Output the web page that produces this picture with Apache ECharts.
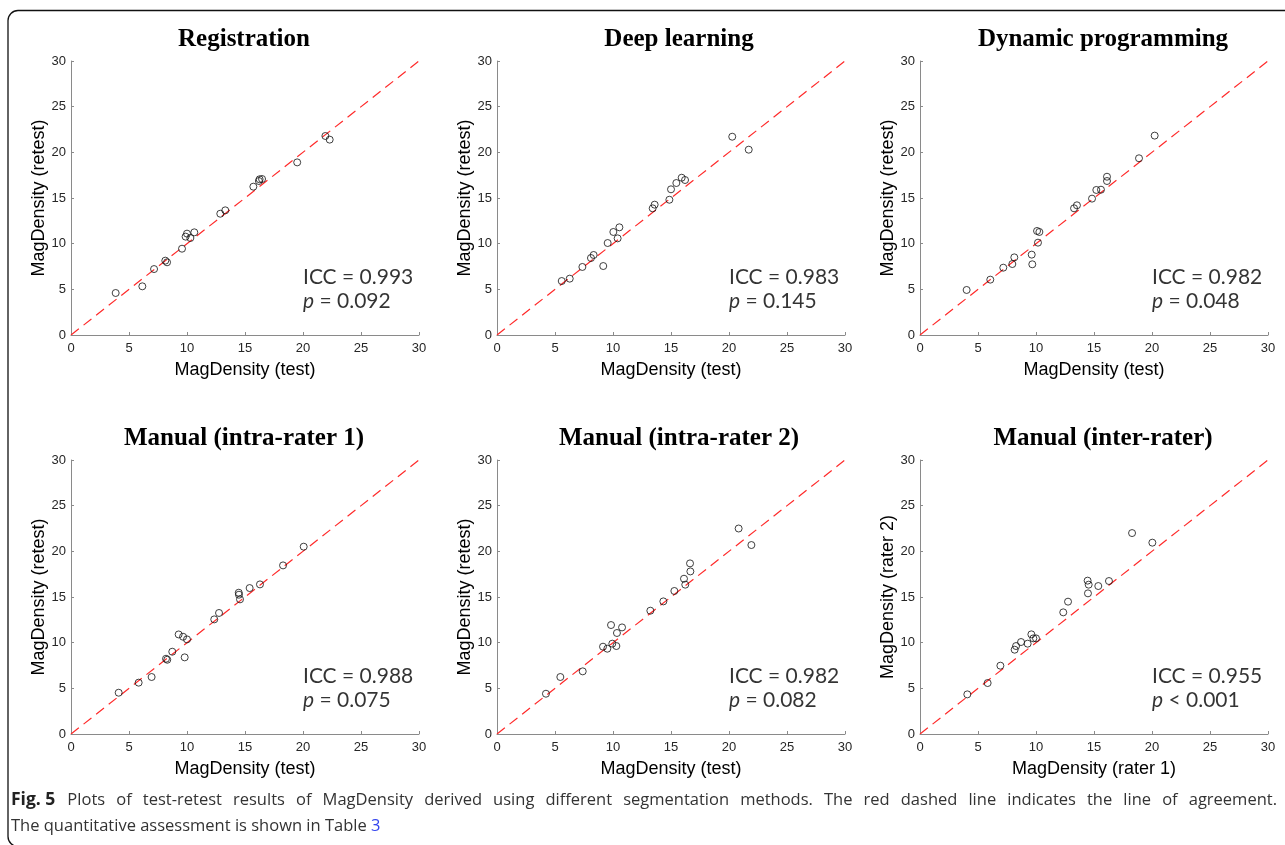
<!DOCTYPE html>
<html>
<head>
<meta charset="utf-8">
<title>Fig. 5 MagDensity test-retest</title>
<script src="https://cdn.jsdelivr.net/npm/echarts@6/dist/echarts.min.js"></script>
<style>
  html, body { margin: 0; padding: 0; background: #fff; }
  #main { width: 1285px; height: 845px; }
</style>
</head>
<body>
<div id="main"></div>
<script>
// panel titles and axis names
const titles = ['Registration', 'Deep learning', 'Dynamic programming',
  'Manual (intra-rater 1)', 'Manual (intra-rater 2)', 'Manual (inter-rater)'];
const xNames = ['MagDensity (test)', 'MagDensity (test)', 'MagDensity (test)',
  'MagDensity (test)', 'MagDensity (test)', 'MagDensity (rater 1)'];
const yNames = ['MagDensity (retest)', 'MagDensity (retest)', 'MagDensity (retest)',
  'MagDensity (retest)', 'MagDensity (retest)', 'MagDensity (rater 2)'];
const iccText = ['0.993', '0.983', '0.982', '0.988', '0.982', '0.955'];
const pText = ['= 0.092', '= 0.145', '= 0.048', '= 0.075', '= 0.082', '< 0.001'];

// axis range + line of agreement
const axisTicks = [0, 5, 10, 15, 20, 25, 30];
const agreeLine = [0, 30];

// test / retest values
const regTest   = [3.85, 6.15, 7.16, 8.13, 8.28, 9.57, 9.88, 10.0, 10.29, 10.63, 12.87, 13.3, 15.72, 16.2, 16.26, 16.47, 19.5, 21.93, 22.3];
const regRetest = [4.6, 5.33, 7.22, 8.14, 7.96, 9.45, 10.77, 11.1, 10.62, 11.24, 13.28, 13.65, 16.24, 16.86, 17.05, 17.08, 18.9, 21.79, 21.39];

const dlTest   = [5.58, 6.27, 7.36, 8.1, 8.33, 9.16, 9.54, 10.03, 10.4, 10.55, 13.42, 13.59, 14.86, 15.0, 15.46, 15.92, 16.21, 20.28, 21.7];
const dlRetest = [5.91, 6.17, 7.45, 8.43, 8.76, 7.55, 10.07, 11.28, 10.58, 11.79, 13.87, 14.27, 14.81, 15.95, 16.64, 17.22, 16.97, 21.71, 20.29];

const dpTest   = [4.02, 6.06, 7.18, 7.96, 8.13, 9.63, 9.68, 10.09, 10.29, 10.17, 13.28, 13.53, 14.83, 15.2, 15.6, 16.12, 16.12, 18.88, 20.23];
const dpRetest = [4.93, 6.06, 7.37, 7.77, 8.5, 8.8, 7.74, 11.39, 11.28, 10.11, 13.87, 14.2, 14.93, 15.88, 15.91, 17.33, 16.86, 19.35, 21.83];

const m1Test   = [4.11, 5.83, 6.95, 8.19, 8.3, 8.73, 9.28, 9.66, 10.0, 9.8, 12.35, 12.76, 14.46, 14.48, 14.57, 15.4, 16.29, 18.28, 20.06];
const m1Retest = [4.52, 5.62, 6.24, 8.24, 8.13, 9.01, 10.9, 10.65, 10.36, 8.39, 12.55, 13.25, 15.47, 15.25, 14.74, 15.98, 16.38, 18.46, 20.51];

const m2Test   = [4.22, 5.46, 7.39, 9.14, 9.51, 9.94, 10.29, 9.83, 10.34, 10.78, 13.22, 14.34, 15.29, 16.12, 16.23, 16.64, 16.67, 20.83, 21.93];
const m2Retest = [4.41, 6.24, 6.86, 9.56, 9.34, 9.89, 9.63, 11.93, 11.06, 11.67, 13.5, 14.52, 15.66, 17.0, 16.35, 18.68, 17.8, 22.5, 20.69];

const rater1 = [4.08, 5.83, 6.93, 8.16, 8.28, 8.71, 9.28, 9.6, 9.77, 10.0, 12.35, 12.76, 14.45, 14.54, 14.48, 15.37, 16.29, 18.28, 20.03];
const rater2 = [4.34, 5.58, 7.48, 9.23, 9.63, 10.07, 9.89, 10.91, 10.47, 10.47, 13.32, 14.49, 16.79, 16.35, 15.4, 16.2, 16.75, 22.0, 20.95];

const panels = [
  [regTest, regRetest], [dlTest, dlRetest], [dpTest, dpRetest],
  [m1Test, m1Retest], [m2Test, m2Retest], [rater1, rater2]
];

const captionLabel = 'Fig. 5';
const captionLine1 = 'Plots of test-retest results of MagDensity derived using different segmentation methods. The red dashed line indicates the line of agreement.';
const captionLine2 = 'The quantitative assessment is shown in Table';
const captionRef = '3';

// layout (px)
const colLeft = [71, 497, 920];
const titleCenter = [244, 679, 1103];
const rowTop = [61, 460];
const plotW = 348, plotH = 274;
const captionLeft = 11, captionRight = 1277;
const capFont = 16.5;

const chart = echarts.init(document.getElementById('main'));

const grid = [], xAxis = [], yAxis = [], series = [], title = [];

panels.forEach((p, i) => {
  const left = colLeft[i % 3];
  const top = rowTop[Math.floor(i / 3)];
  grid.push({ left, top, width: plotW, height: plotH, containLabel: false });

  const axisBase = {
    gridIndex: i,
    type: 'value',
    min: axisTicks[0],
    max: axisTicks[axisTicks.length - 1],
    interval: axisTicks[1] - axisTicks[0],
    splitLine: { show: false },
    axisLine: { onZero: false, lineStyle: { color: '#8a8a8a', width: 1 } },
    axisTick: { inside: true, length: 3, lineStyle: { color: '#8a8a8a' } },
    axisLabel: { color: '#262626', fontSize: 13, fontFamily: 'Liberation Sans' },
    nameLocation: 'middle',
    nameTextStyle: { color: '#000', fontSize: 18, fontFamily: 'Liberation Sans' }
  };
  xAxis.push(Object.assign({}, axisBase, {
    name: xNames[i], nameGap: 26,
    axisLabel: Object.assign({}, axisBase.axisLabel, { margin: 7 })
  }));
  yAxis.push(Object.assign({}, axisBase, {
    name: yNames[i], nameGap: 23,
    axisLabel: Object.assign({}, axisBase.axisLabel, { margin: 5 })
  }));

  title.push({
    text: titles[i],
    left: titleCenter[i % 3],
    top: top - 34,
    padding: 0,
    textAlign: 'center',
    textStyle: { fontFamily: 'Liberation Serif', fontWeight: 'bold', fontSize: 25, color: '#000' }
  });

  series.push({
    type: 'line',
    xAxisIndex: i, yAxisIndex: i,
    data: [[agreeLine[0], agreeLine[0]], [agreeLine[1], agreeLine[1]]],
    symbol: 'none',
    silent: true,
    lineStyle: { color: '#ff2a2a', width: 1.2, type: [10, 6] },
    z: 1
  });
  series.push({
    type: 'scatter',
    xAxisIndex: i, yAxisIndex: i,
    data: p[0].map((v, k) => [v, p[1][k]]),
    symbol: 'circle',
    symbolSize: 7,
    itemStyle: { color: 'rgba(0,0,0,0)', borderColor: '#111', borderWidth: 1 },
    silent: true,
    z: 2
  });
  // ICC / p annotation anchored in data space
  series.push({
    type: 'scatter',
    xAxisIndex: i, yAxisIndex: i,
    symbolSize: 0,
    silent: true,
    data: [
      { value: [20, 6.35], label: { formatter: 'ICC = ' + iccText[i] } },
      { value: [20, 3.65], label: { formatter: '{i|p} ' + pText[i] } }
    ],
    label: {
      show: true,
      position: 'right',
      distance: 0,
      color: '#000',
      fontSize: 21,
      fontFamily: 'Lato',
      rich: { i: { fontStyle: 'italic', fontSize: 21, fontFamily: 'Lato', color: '#000' } }
    }
  });
});

// caption line 1 is justified in the figure: spread the word gaps
const ctx = document.createElement('canvas').getContext('2d');
ctx.font = 'bold ' + (capFont + 1) + 'px "Open Sans"';
const labelW = ctx.measureText(captionLabel).width;
ctx.font = capFont + 'px "Open Sans"';
const words = captionLine1.split(' ');
const wordsW = words.reduce((s, w) => s + ctx.measureText(w).width, 0);
const gapCount = words.length - 1;
const leadGap = 12;
const gapW = (captionRight - captionLeft - labelW - leadGap - wordsW) / gapCount;
const justified = '{b|' + captionLabel + '}{g0| }' + words.join('{g| }');

chart.setOption({
  animation: false,
  backgroundColor: '#fff',
  title,
  grid,
  xAxis,
  yAxis,
  series,
  graphic: [
    {
      type: 'rect',
      shape: { x: 8, y: 10.5, width: 1300, height: 836, r: 10 },
      style: { fill: 'none', stroke: '#111', lineWidth: 1.3 },
      silent: true
    },
    {
      type: 'text',
      left: captionLeft,
      top: 787,
      style: {
        text: justified + '\n' + captionLine2 + ' {l|' + captionRef + '}',
        font: capFont + 'px "Open Sans"',
        fill: '#333',
        lineHeight: 26,
        rich: {
          b: { fontWeight: 'bold', fontSize: capFont + 1, fontFamily: 'Open Sans', fill: '#222', lineHeight: 26 },
          g0: { width: leadGap, fontSize: capFont, lineHeight: 26 },
          g: { width: gapW, fontSize: capFont, lineHeight: 26 },
          l: { fontSize: capFont, fontFamily: 'Open Sans', fill: '#3344ee', lineHeight: 26 }
        }
      },
      silent: true
    }
  ]
});
</script>
</body>
</html>
